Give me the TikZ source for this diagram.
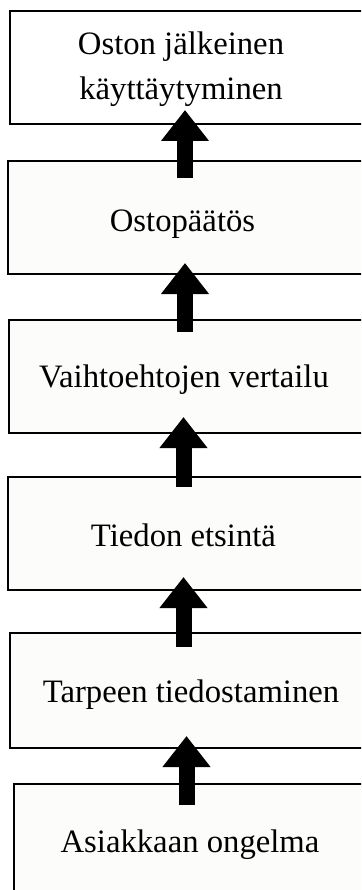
\documentclass[tikz,border=0pt]{standalone}
\usepackage{fontspec}
\setmainfont{Liberation Serif}
\usetikzlibrary{arrows.meta}
\definecolor{boxfill}{RGB}{252,252,251}
\tikzset{
  stagebox/.style={draw=black, line width=1.3pt, fill=boxfill, inner sep=0pt},
  stagetext/.style={anchor=base, inner sep=0pt, align=center,
    font=\fontsize{32.7}{45}\selectfont},
  uparrow/.style={line width=16pt, line cap=butt,
    -{Triangle[width=46pt,length=31pt]}}
}
\begin{document}
\begin{tikzpicture}[x=1pt,y=-1pt]
  \useasboundingbox (0,0) rectangle (361,890);
  \begin{scope}
    \clip (0,0) rectangle (361,890);
    % stage boxes (they run past the right and bottom edges)
    \node[stagebox, fill=white, minimum width=370pt, minimum height=113pt] (b1) at (195,67.5) {};
    \node[stagebox, minimum width=372pt, minimum height=113pt] (b2) at (194,217.5) {};
    \node[stagebox, minimum width=371pt, minimum height=113pt] (b3) at (194.5,376.5) {};
    \node[stagebox, minimum width=372pt, minimum height=113pt] (b4) at (194,533.5) {};
    \node[stagebox, minimum width=370pt, minimum height=115pt] (b5) at (195,690.5) {};
    \node[stagebox, minimum width=366pt, minimum height=120pt] (b6) at (197,844) {};
  \end{scope}

  % stage labels (base = baseline of the last line)
  \node[stagetext] (t1) at (181,100) {Oston jälkeinen\\käyttäytyminen};
  \node[stagetext] (t2) at (182.5,232) {Ostopäätös};
  \node[stagetext] (t3) at (184,387) {Vaihtoehtojen vertailu};
  \node[stagetext] (t4) at (183.5,546) {Tiedon etsintä};
  \node[stagetext] (t5) at (191,702) {Tarpeen tiedostaminen};
  \node[stagetext] (t6) at (190,852) {Asiakkaan ongelma};

  % arrow ends
  \coordinate (a1s) at (185,178);  \coordinate (a1e) at (185,110);
  \coordinate (a2s) at (185,332);  \coordinate (a2e) at (185,263);
  \coordinate (a3s) at (183.5,487); \coordinate (a3e) at (183.5,417);
  \coordinate (a4s) at (183.5,647); \coordinate (a4e) at (183.5,577);
  \coordinate (a5s) at (186.5,805); \coordinate (a5e) at (186.5,736);

  % upward flow arrows
  \draw[uparrow] (a1s) -- (a1e);
  \draw[uparrow] (a2s) -- (a2e);
  \draw[uparrow] (a3s) -- (a3e);
  \draw[uparrow] (a4s) -- (a4e);
  \draw[uparrow] (a5s) -- (a5e);
\end{tikzpicture}
\end{document}
